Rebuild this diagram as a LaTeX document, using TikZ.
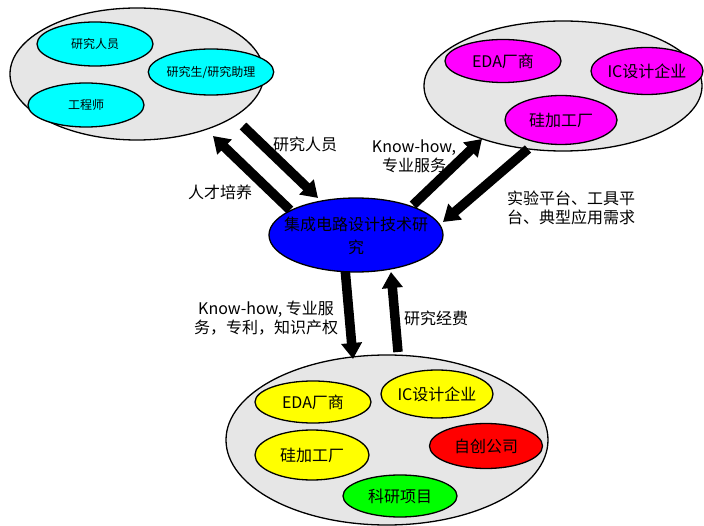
\documentclass[tikz,border=0pt]{standalone}
\usepackage{fontspec}
\setmainfont{Noto Sans CJK SC}
\usetikzlibrary{shapes.geometric,arrows.meta}
\definecolor{grp}{RGB}{230,230,230}
\definecolor{cy}{RGB}{0,255,255}
\definecolor{mg}{RGB}{255,0,255}
\definecolor{ye}{RGB}{255,255,0}
\definecolor{rd}{RGB}{255,0,0}
\definecolor{gr}{RGB}{0,255,0}
\definecolor{bl}{RGB}{0,0,255}
\tikzset{
  grpell/.style={ellipse,draw=black,line width=1.3pt,fill=grp,inner sep=0pt},
  inell/.style={ellipse,draw=black,line width=1.3pt,inner sep=0pt,font=\fontsize{16}{19}\selectfont},
  fat/.style={line width=9.5pt,-{Triangle[width=20pt,length=16pt]}},
  lbl/.style={font=\fontsize{16}{19}\selectfont,inner sep=0pt}
}
\begin{document}
\begin{tikzpicture}[x=1pt,y=-1pt]
\useasboundingbox (0,0) rectangle (704,526);
% group ellipses
\node[grpell,minimum width=254pt,minimum height=132pt] (gtl) at (137,74) {};
\node[grpell,minimum width=278pt,minimum height=130pt] (gtr) at (563,86) {};
\node[grpell,minimum width=322pt,minimum height=170pt] (gb) at (387,440) {};
% top-left inner
\node[inell,fill=cy,minimum width=116pt,minimum height=44pt,font=\fontsize{12}{14}\selectfont] (r1) at (95,44) {研究人员};
\node[inell,fill=cy,minimum width=108pt,minimum height=46pt,font=\fontsize{12}{14}\selectfont] (r2) at (211,72) {研究生/研究助理};
\node[inell,fill=cy,minimum width=116pt,minimum height=44pt,font=\fontsize{12}{14}\selectfont] (r3) at (86,105) {工程师};
% top-right inner
\node[inell,fill=mg,minimum width=116pt,minimum height=43pt] (m1) at (503,61) {EDA厂商};
\node[inell,fill=mg,minimum width=112pt,minimum height=47pt] (m2) at (647,71) {IC设计企业};
\node[inell,fill=mg,minimum width=112pt,minimum height=49pt] (m3) at (561,120) {硅加工厂};
% bottom inner
\node[inell,fill=ye,minimum width=116pt,minimum height=42pt] (y1) at (313,402) {EDA厂商};
\node[inell,fill=ye,minimum width=112pt,minimum height=48pt] (y2) at (437,394) {IC设计企业};
\node[inell,fill=ye,minimum width=114pt,minimum height=50pt] (y3) at (312,455) {硅加工厂};
\node[inell,fill=rd,minimum width=113pt,minimum height=45pt] (rd1) at (486,446) {自创公司};
\node[inell,fill=gr,minimum width=114pt,minimum height=42pt] (g1) at (400,496) {科研项目};
% arrow end points
\coordinate (a1s) at (243,126);
\coordinate (a1e) at (318,198);
\coordinate (a2s) at (290,210);
\coordinate (a2e) at (213,136);
\coordinate (a3s) at (413,205);
\coordinate (a3e) at (482,139);
\coordinate (a4s) at (528,149);
\coordinate (a4e) at (443,222);
\coordinate (a5s) at (345,268);
\coordinate (a5e) at (353,359);
\coordinate (a6s) at (398,352);
\coordinate (a6e) at (391,272);
\draw[fat] (a1s) -- (a1e);
\draw[fat] (a2s) -- (a2e);
\draw[fat] (a3s) -- (a3e);
\draw[fat] (a4s) -- (a4e);
\draw[fat] (a5s) -- (a5e);
\draw[fat] (a6s) -- (a6e);
% centre
\node[ellipse,draw=black,line width=1.3pt,fill=bl,inner sep=0pt,minimum width=174pt,minimum height=74pt] (c) at (356,235) {};
\node[lbl,align=center,font=\fontsize{16}{23}\selectfont] (ct) at (356,236) {集成电路设计技术研\\究};
% labels
\node[lbl] (l1) at (305,144) {研究人员};
\node[lbl] (l2) at (220,192) {人才培养};
\node[lbl,align=center] (l3) at (414,156) {Know-how,\\专业服务};
\node[lbl,align=left,anchor=west] (l4) at (507,208) {实验平台、工具平\\台、典型应用需求};
\node[lbl,align=center] (l5) at (266,318) {Know-how, 专业服\\务，专利，知识产权};
\node[lbl] (l6) at (436,318) {研究经费};
\end{tikzpicture}
\end{document}
